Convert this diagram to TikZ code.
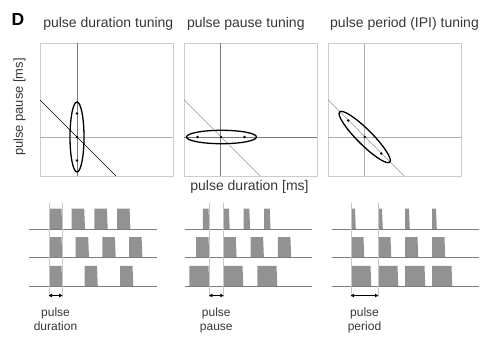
\documentclass[tikz,border=0pt]{standalone}
\usepackage{fontspec}
\setmainfont{Liberation Sans}
\usetikzlibrary{arrows.meta}
\definecolor{boxgray}{RGB}{205,205,205}
\definecolor{axdark}{RGB}{120,120,120}
\definecolor{axlight}{RGB}{175,175,175}
\definecolor{diaggray}{RGB}{150,150,150}
\definecolor{pulsegray}{RGB}{146,146,146}
\definecolor{basegray}{RGB}{125,125,125}
\definecolor{guidegray}{RGB}{200,200,200}
\definecolor{txtgray}{RGB}{55,55,55}
\newcommand\mypulse[3]{\fill[pulsegray] (#1,#3) -- (#1,#3-20.5) -- (#1+#2-0.8,#3-20.5) -- (#1+#2,#3) -- cycle;}
\begin{document}
\begin{tikzpicture}[x=1pt,y=-1pt,
  frame/.style={draw=boxgray,line width=0.6pt},
  axd/.style={draw=axdark,line width=0.6pt},
  axl/.style={draw=axlight,line width=0.6pt},
  tune/.style={draw=black,line width=1.3pt},
  dot/.style={fill=black},
  title/.style={font=\fontsize{14}{16}\selectfont,text=txtgray,inner sep=0pt,anchor=base},
  small/.style={font=\fontsize{12}{14}\selectfont,text=txtgray,inner sep=0pt,anchor=base},
  baseline/.style={draw=basegray,line width=0.7pt},
  guide/.style={draw=guidegray,line width=0.5pt},
  dimarrow/.style={draw=black,line width=1pt,{Latex[length=3.5pt,width=4pt]}-{Latex[length=3.5pt,width=4pt]}}
]
\useasboundingbox (0,0) rectangle (485,337);

% Labels
\node[font=\bfseries\fontsize{17.5}{20}\selectfont,inner sep=0pt,anchor=base] (lD) at (18,26) {D};
\node[title] (t1) at (108.3,27.5) {pulse duration tuning};
\node[title] (t2) at (245.8,27.5) {pulse pause tuning};
\node[title] (t3) at (404.5,27.5) {pulse period (IPI) tuning};
\node[font=\fontsize{12.9}{15}\selectfont,text=txtgray,inner sep=0pt,rotate=90] (yl) at (19.5,107) {pulse pause [ms]};
\node[font=\fontsize{14}{16}\selectfont,text=txtgray,inner sep=0pt] (xl) at (249.5,187) {pulse duration [ms]};

% Panel 1
\draw[frame] (40,43.3) rectangle (173,176);
\draw[axd] (77,43.3) -- (77,176);
\draw[axl] (40,137) -- (173,137);
\draw[black,line width=0.5pt] (40,100) -- (116,176);
\draw[tune] (77,137) ellipse [x radius=7, y radius=35];
\foreach \d in {-23.5,0,23.5} \fill[dot] (77,137+\d) circle (1.4);

% Panel 2
\draw[frame] (184.3,43.3) rectangle (317.3,176);
\draw[axd] (220.3,43.3) -- (220.3,176);
\draw[axd] (184.3,137) -- (317.3,137);
\draw[diaggray,line width=0.6pt] (184.3,100) -- (260.3,176);
\draw[tune] (221.5,137) ellipse [x radius=35, y radius=6.7];
\foreach \d in {-23.5,0,23.5} \fill[dot] (221+\d,137) circle (1.4);

% Panel 3
\draw[frame] (328.3,43.3) rectangle (461.7,176);
\draw[axl] (364.7,43.3) -- (364.7,176);
\draw[axl] (328.3,137) -- (461.7,137);
\draw[diaggray,line width=0.6pt] (328.3,100) -- (404.3,176);
\draw[tune,rotate around={-45:(364.7,137)}] (364.7,137) ellipse [x radius=35.5, y radius=7.5];
\foreach \d in {-16.5,0,16.5} \fill[dot] (364.7+\d,137+\d) circle (1.4);

% ---------- bottom: pulse trains ----------
% Panel 1: duration tuning
\foreach \s in {49,71.7,94.4,117.1} {\mypulse{\s}{13.3}{229}}
\foreach \s in {49,75.7,102.4,129.1} {\mypulse{\s}{13.3}{257.7}}
\foreach \s in {49,84.5,120} {\mypulse{\s}{13.3}{286.3}}
\foreach \y in {229,257.7,286.3} \draw[baseline] (29.3,\y) -- (156.7,\y);
\coordinate (g1a) at (49,202.5); \coordinate (g1b) at (49,297);
\coordinate (g1c) at (62.3,202.5); \coordinate (g1d) at (62.3,297);
\draw[guide] (g1a) -- (g1b);
\draw[guide] (g1c) -- (g1d);
\coordinate (a1l) at (48.5,295.5); \coordinate (a1r) at (62.7,295.5);
\draw[dimarrow] (a1l) -- (a1r);
\node[small] (l1a) at (55.5,316) {pulse};
\node[small] (l1b) at (55.5,330) {duration};

% Panel 2: pause tuning
\foreach \s in {202.9,223.3,243.7,264.1} {\mypulse{\s}{6.4}{229}}
\foreach \s in {196,223.3,250.6,277.9} {\mypulse{\s}{13.3}{257.7}}
\foreach \s in {189.3,223.3,257.3} {\mypulse{\s}{20}{286.3}}
\foreach \y in {229,257.7,286.3} \draw[baseline] (185,\y) -- (311.7,\y);
\coordinate (g2a) at (209.3,202.5); \coordinate (g2b) at (209.3,297);
\coordinate (g2c) at (223.3,202.5); \coordinate (g2d) at (223.3,297);
\draw[guide] (g2a) -- (g2b);
\draw[guide] (g2c) -- (g2d);
\coordinate (a2l) at (208.8,295.5); \coordinate (a2r) at (223.8,295.5);
\draw[dimarrow] (a2l) -- (a2r);
\node[small] (l2a) at (216.3,316) {pulse};
\node[small] (l2b) at (216.3,330) {pause};

% Panel 3: period tuning
\foreach \s in {351,378,405,432} {\mypulse{\s}{4.8}{229}}
\foreach \s in {351,378,405,432} {\mypulse{\s}{13.3}{257.7}}
\foreach \s in {351,378,405,432} {\mypulse{\s}{20.3}{286.3}}
\foreach \y in {229,257.7,286.3} \draw[baseline] (331.7,\y) -- (479,\y);
\coordinate (g3a) at (351,202.5); \coordinate (g3b) at (351,297);
\coordinate (g3c) at (378,202.5); \coordinate (g3d) at (378,297);
\draw[guide] (g3a) -- (g3b);
\draw[guide] (g3c) -- (g3d);
\coordinate (a3l) at (350.5,295.5); \coordinate (a3r) at (378.5,295.5);
\draw[dimarrow] (a3l) -- (a3r);
\node[small] (l3a) at (364.5,316) {pulse};
\node[small] (l3b) at (364.5,330) {period};
\end{tikzpicture}
\end{document}
